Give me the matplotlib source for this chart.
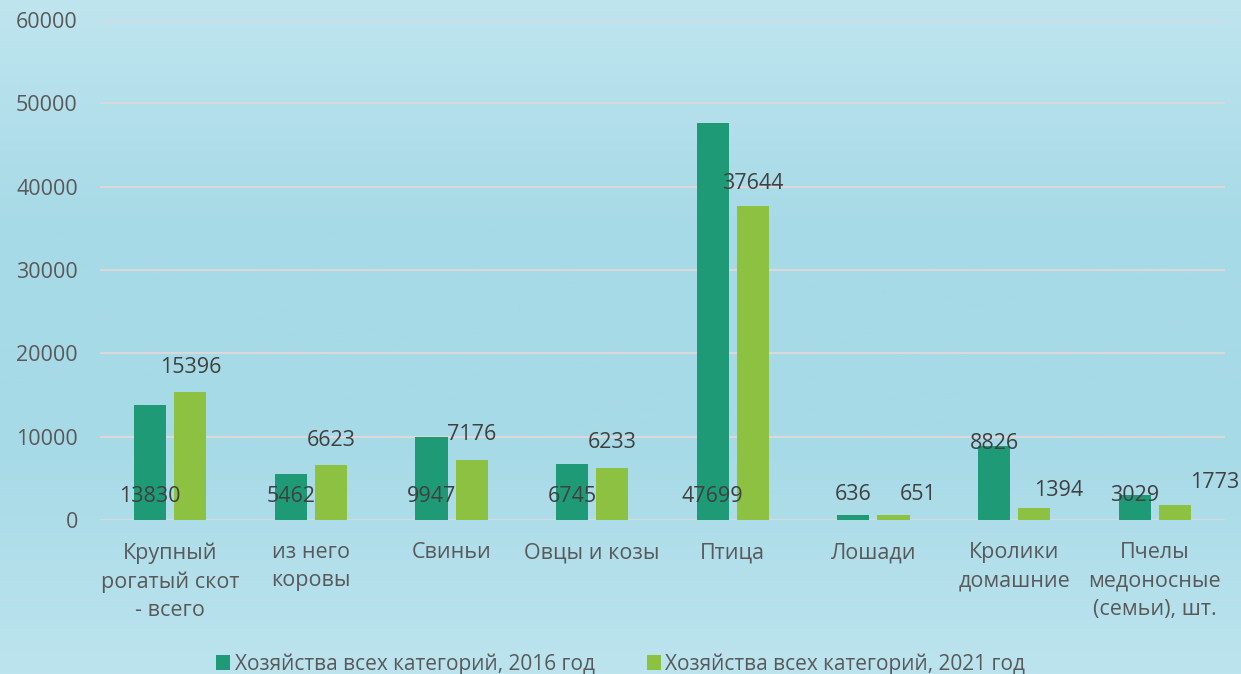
import numpy as np
import matplotlib.pyplot as plt
from matplotlib.colors import LinearSegmentedColormap

# Поголовье скота (данные с графика)
categories = ['Крупный\nрогатый скот\n- всего', 'из него\nкоровы', 'Свиньи', 'Овцы и козы',
              'Птица', 'Лошади', 'Кролики\nдомашние', 'Пчелы\nмедоносные\n(семьи), шт.']
vals_2016 = [13830, 5462, 9947, 6745, 47699, 636, 8826, 3029]
vals_2021 = [15396, 6623, 7176, 6233, 37644, 651, 1394, 1773]
series_names = ['Хозяйства всех категорий, 2016 год', 'Хозяйства всех категорий, 2021 год']

# где стоят подписи значений (по графику), в единицах оси y
label_y_2016 = [2800, 2800, 2800, 2800, 2800, 3100, 9200, 2900]
label_y_2021 = [18300, 9600, 10200, 9250, 40400, 3100, 3600, 4550]
label_dx_2021 = [0, 0, 0, 0, 0, 25, 25, 40]   # сдвиг в пикселях

dark = '#1e9b76'
light = '#8cc142'

plt.rcParams['font.family'] = ['Open Sans', 'DejaVu Sans']

fig = plt.figure(figsize=(12.41, 6.74), dpi=100)

# фон - вертикальный градиент
bg = fig.add_axes([0, 0, 1, 1], zorder=-10)
cmap = LinearSegmentedColormap.from_list('bg', ['#bfe5ef', '#a7dae7', '#a7dae7', '#bce4ee'])
grad = np.linspace(0, 1, 256).reshape(-1, 1)
bg.imshow(grad, aspect='auto', cmap=cmap, extent=[0, 1, 0, 1], origin='upper')
bg.axis('off')

ax = fig.add_axes([100 / 1241, 1 - 520 / 674, 1125 / 1241, 500 / 674])
ax.set_facecolor('none')

x = np.arange(len(categories))
w = 0.228
gap = 0.057
b1 = ax.bar(x - (w + gap) / 2, vals_2016, w, color=dark, label=series_names[0], zorder=3)
b2 = ax.bar(x + (w + gap) / 2, vals_2021, w, color=light, label=series_names[1], zorder=3)

for i in range(len(categories)):
    ax.annotate(str(vals_2016[i]), (x[i] - (w + gap) / 2, label_y_2016[i]),
                ha='center', va='center', fontsize=15.5, color='#404040', zorder=4)
    ax.annotate(str(vals_2021[i]), (x[i] + (w + gap) / 2, label_y_2021[i]),
                xytext=(label_dx_2021[i] * 0.72, 0), textcoords='offset points',
                ha='center', va='center', fontsize=15.5, color='#404040', zorder=4)

ax.set_xlim(-0.5, len(categories) - 0.5)
ax.set_ylim(0, 60000)
ax.set_yticks(range(0, 60001, 10000))
ax.yaxis.grid(True, color='#d9d9d9', linewidth=1.5, zorder=0)
ax.set_axisbelow(True)
for s in ax.spines.values():
    s.set_visible(False)
ax.tick_params(axis='both', length=0, labelsize=15.5, labelcolor='#595959')
ax.tick_params(axis='y', pad=16)
ax.tick_params(axis='x', pad=16)
ax.set_xticks(x)
ax.set_xticklabels(categories, linespacing=1.45, va='top')

leg = fig.legend(handles=[b1, b2], loc='center', bbox_to_anchor=(0.5, 1 - 664 / 674), ncol=2,
                 frameon=False, fontsize=15, handlelength=0.7, handleheight=0.7,
                 handletextpad=0.2, columnspacing=2.5)
for t in leg.get_texts():
    t.set_color('#595959')

fig.savefig('out.png', dpi=100)
